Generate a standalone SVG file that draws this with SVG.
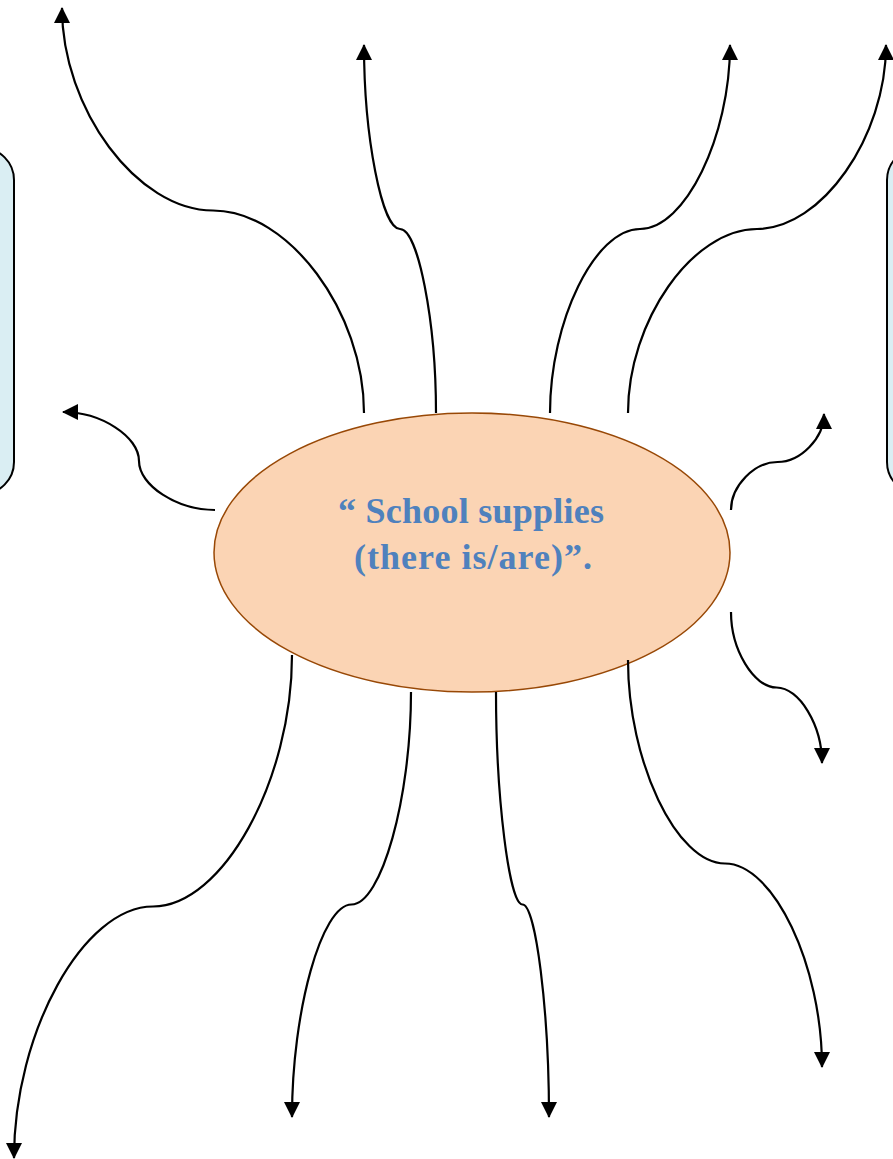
<svg xmlns="http://www.w3.org/2000/svg" width="893" height="1159" viewBox="0 0 893 1159">
<style>
.box{fill:#DAEEF3;stroke:#000;stroke-width:2}
.conn{fill:none;stroke:#000;stroke-width:2.2;marker-end:url(#arr)}
.lbl{font-family:"Liberation Serif","Times New Roman",serif;font-weight:bold;font-size:36px;fill:#4F81BD;text-anchor:middle}
</style>
<defs>
<marker id="arr" viewBox="0 0 16 16" refX="15" refY="8" markerWidth="16" markerHeight="16" markerUnits="userSpaceOnUse" orient="auto">
<path d="M0,0 L16,8 L0,16 z" fill="#000"/>
</marker>
</defs>
<rect width="893" height="1159" fill="#fff"/>
<g id="box-left"><rect class="box" x="-50" y="148" width="64" height="346" rx="32" ry="32"/></g>
<g id="box-right"><rect class="box" x="887" y="148" width="64" height="346" rx="32" ry="32"/></g>
<g id="center">
<ellipse cx="472" cy="552.5" rx="258" ry="139.5" fill="#FBD4B4" stroke="#984806" stroke-width="1.5"/>
<text class="lbl" x="471" y="523" textLength="266" lengthAdjust="spacing">“ School supplies</text>
<text class="lbl" x="473" y="569" textLength="238" lengthAdjust="spacing">(there is/are)”.</text>
</g>
<g id="connectors">
<path class="conn" d="M364,413 C364,311.75 288.5,210.5 213,210.5 C137.5,210.5 62,109.25 62,8"/>
<path class="conn" d="M436,413 C436,321 418,229 400,229 C382,229 364,137 364,45"/>
<path class="conn" d="M550,413 C550,321 595,229 640,229 C685,229 730,137 730,45"/>
<path class="conn" d="M628,413 C628,321 692.5,229 757,229 C821.5,229 886,137 886,45"/>
<path class="conn" d="M215,510 C177,510 139,485.5 139,461 C139,436.5 101,412 63,412"/>
<path class="conn" d="M731,510 C731,486 754.25,462 777.5,462 C800.75,462 824,438 824,414"/>
<path class="conn" d="M731,612 C731,649.75 753.75,687.5 776.5,687.5 C799.25,687.5 822,725.25 822,763"/>
<path class="conn" d="M292,655 C292,780.75 222.5,906.5 153,906.5 C83.5,906.5 14,1032.25 14,1158"/>
<path class="conn" d="M411,692 C411,798.25 381.25,904.5 351.5,904.5 C321.75,904.5 292,1010.75 292,1117"/>
<path class="conn" d="M496,692 C496,798.25 509.25,904.5 522.5,904.5 C535.75,904.5 549,1010.75 549,1117"/>
<path class="conn" d="M628,660 C628,761.75 676.5,863.5 725,863.5 C773.5,863.5 822,965.25 822,1067"/>
</g>
</svg>
